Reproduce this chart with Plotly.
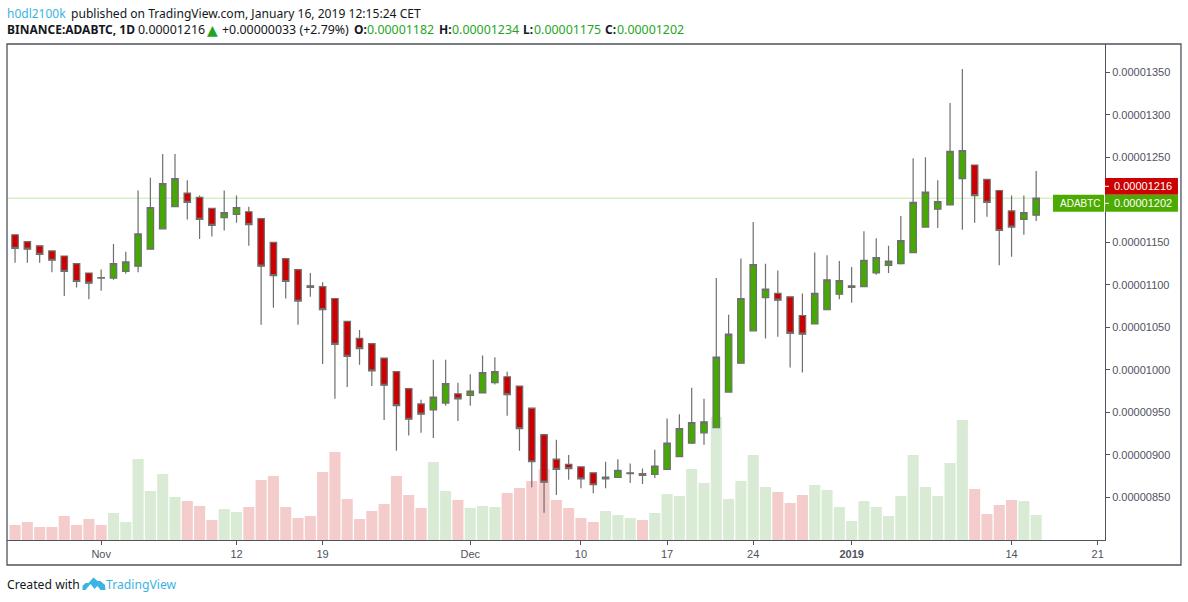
import pandas as pd
import numpy as np
import plotly.graph_objects as go

SYMBOL = "ADABTC"
first_day = "2018-10-25"
# prices in units of 1e-8 BTC
opens = [1159,1151,1146,1140,1134,1125,1114,1108.5,1108,1116,1122,1142,1166,1192,1208,1203,1190,1179,1183,1186,
         1178,1150,1131,1118,1099,1098,1084,1057,1037,1031,1014,998,978,960,953,961,972,970,973,985,
         992,981,955,924,895,889,886,879,872,873.5,878,878,877,883,898,914,926,932,974,1008,
         1046,1085,1090,1086,1064,1054,1071,1089,1097,1098,1114,1123,1125,1138,1168,1189,1194,1225,1241,1224,
         1211,1187,1177,1182]
highs = [1159,1151,1146,1140,1134,1125,1114,1118,1148,1139,1211,1226,1254,1254,1223,1205,1190,1211,1205,1192,
         1178,1150,1131,1118,1114,1103,1084,1057,1047,1031,1014,998,978,965,1012,1012,985,995,1017,1015,
         998,981,955,924,918,900,886,879,892,895,890,884,906,943,948,979,966,1108,1065,1131,
         1174,1125,1117,1086,1090,1138,1135,1128,1121,1163,1155,1146,1181,1249,1250,1223,1314,1354,1241,1224,
         1211,1205,1205,1234]
lows = [1126,1126,1126,1115,1087,1097,1083,1093,1106,1113,1115,1142,1166,1192,1177,1154,1157,1164,1173,1146,
        1053,1073,1084,1053,1086,1007,966,980,1006,981,941,905,923,926,920,958,940,958,973,983,
        946,905,862,832,853,871,861,855,861,873,867,866,873,883,898,913,912,932,974,1008,
        1046,1037,1039,1003,997,1054,1071,1083,1079,1098,1112,1114,1124,1138,1168,1167,1194,1165,1173,1180,
        1123,1133,1159,1175]
closes = [1143,1142,1136,1129,1116,1104,1102,1108,1125,1127,1160,1191,1219,1225,1197,1177,1170,1185,1191,1171,
          1122,1111,1104,1081,1097,1071,1030,1016,1025,999,982,958,942,948,968,984,966,975,997,998,
          971,931,892,868,883,884,872,865,874,882,879,876,887,914,931,938,939,1015,1042,1084,
          1124,1095,1082,1043,1042,1090,1106,1105,1099,1129,1132,1128,1152,1197,1209,1198,1257,1258,1205,1197,
          1164,1168,1185,1202]
volumes = [45,54,39,39,72,45,63,45,81,54,243,147,198,129,117,102,60,93,84,99,
           180,192,99,66,72,204,264,123,63,87,108,192,135,96,234,147,120,96,102,99,
           141,156,177,213,120,96,66,54,87,75,66,60,81,138,132,213,171,369,123,177,
           255,159,144,111,135,165,150,99,57,117,99,72,132,255,159,132,231,360,153,78,
           105,120,117,75]
y_ticks = [850,900,950,1000,1050,1100,1150,1250,1300,1350]
x_tick_dates = ["2018-11-01","2018-11-12","2018-11-19","2018-12-01","2018-12-10","2018-12-17","2018-12-24","2019-01-01","2019-01-14","2019-01-21"]
x_tick_text = ["Nov","12","19","Dec","10","17","24","<b>2019</b>","14","21"]
last_close = 1202
last_price = 1216

W, H = 1188, 602
L, R, T, B = 6.5, 1105, 44, 540
GREEN, RED, WICK = "#45a803", "#cc0000", "#6f6f6f"
AXIS = "#50535e"
BLUE = "#3bb3e4"
VAL = "#1fa51f"
DARK = "#131722"

def px(x): return (x - L) / (R - L)
def py(y): return (B - y) / (B - T)

days = pd.date_range(first_day, periods=len(opens), freq="D")
scale = 1e-8
o, h, l, c = [np.array(a, float) * scale for a in (opens, highs, lows, closes)]
vol_colors = ["#d9ebd5" if b > a else "#f5cccc" for a, b in zip(opens, closes)]

fig = go.Figure()
fig.add_trace(go.Bar(x=days, y=volumes, marker=dict(color=vol_colors, line_width=0), yaxis="y", hoverinfo="skip"))
fig.add_trace(go.Candlestick(
    x=days, open=o, high=h, low=l, close=c, yaxis="y2", whiskerwidth=0,
    increasing=dict(line=dict(color=WICK, width=1.2), fillcolor=GREEN),
    decreasing=dict(line=dict(color=WICK, width=1.2), fillcolor=RED),
))

shapes = [
    dict(type="rect", xref="paper", yref="paper", x0=px(6.5), x1=px(1181), y0=py(565), y1=py(44),
         line=dict(color=AXIS, width=1.3), fillcolor="rgba(0,0,0,0)"),
    dict(type="line", xref="paper", yref="y2", x0=0, x1=px(1053), y0=last_close*scale, y1=last_close*scale,
         line=dict(color="#c2e8a8", width=1), layer="below"),
    dict(type="rect", xref="paper", yref="paper", x0=px(1105), x1=px(1178), y0=py(194.7), y1=py(178),
         fillcolor=RED, line_width=0),
    dict(type="rect", xref="paper", yref="paper", x0=px(1105), x1=px(1178), y0=py(211.7), y1=py(194.7),
         fillcolor="#4caa00", line_width=0),
    dict(type="rect", xref="paper", yref="paper", x0=px(1053), x1=px(1104), y0=py(211.7), y1=py(194.7),
         fillcolor="#4caa00", line_width=0),
    dict(type="line", xref="paper", yref="paper", x0=px(1105), x1=px(1109), y0=py(186.3), y1=py(186.3),
         line=dict(color="white", width=1)),
    dict(type="line", xref="paper", yref="paper", x0=px(1105), x1=px(1109), y0=py(203.3), y1=py(203.3),
         line=dict(color="white", width=1)),
]
# logo
def P(pts):
    return "M" + " L".join(f"{px(a):.5f},{py(b):.5f}" for a, b in pts) + " Z"
logo = [(82,590),(82,586),(85,583),(88,583),(93,577.5),(97,581),(100,581),(104.5,585),(105,590),(100,590),(97,586),(94,589),(90,584),(85,590)]
shapes.append(dict(type="path", xref="paper", yref="paper", path=P(logo), fillcolor=BLUE, line_width=0))

def text(x, y, s, color=DARK, size=12.5, bold=False, family="Noto Sans"):
    fig.add_annotation(xref="paper", yref="paper", x=px(x), y=py(y), xanchor="left", yanchor="middle",
                       text=f"<b>{s}</b>" if bold else s, showarrow=False, align="left",
                       font=dict(color=color, size=size, family=family), xshift=-2)

text(6, 13, "h0dl2100k", BLUE, 12)
text(70.5, 13, "published on TradingView.com, January 16, 2019 12:15:24 CET", DARK, 12.1)
text(6, 30, "BINANCE:ADABTC, 1D", DARK, 12, True)
text(138, 30, "0.00001216", DARK, 12.4)
text(207, 30, "▲", VAL, 14, family="DejaVu Sans")
text(222, 30, "+0.00000033 (+2.79%)", DARK, 12.4)
for lx, lab, vx, val in [(353.5,"O:",367,"0.00001182"),(439,"H:",452,"0.00001234"),(523,"L:",534,"0.00001175"),(605,"C:",617,"0.00001202")]:
    text(lx, 30, lab, DARK, 12, True)
    text(vx, 30, val, VAL, 12.4)
text(6, 584, "Created with", DARK, 12.2)
text(106, 584, "TradingView", BLUE, 12.2)
for x0, y0, s, sz in [(1060, 203.3, SYMBOL, 10), (1114, 186.3, f"{last_price*scale:.8f}", 11), (1114, 203.3, f"{last_close*scale:.8f}", 11)]:
    text(x0, y0, s, "white", sz, family="Liberation Sans")

fig.update_layout(
    width=W, height=H, autosize=False, margin=dict(l=L, r=W-R, t=T, b=H-B, pad=0),
    paper_bgcolor="white", plot_bgcolor="white", showlegend=False, bargap=0.1, boxgap=0.25,
    font=dict(family="Liberation Sans", size=11, color=AXIS),
    shapes=shapes,
    xaxis=dict(type="date", range=["2018-10-24 08:17", "2019-01-21 14:17"], rangeslider=dict(visible=False),
               tickvals=x_tick_dates, ticktext=x_tick_text, ticks="outside", ticklen=4, tickcolor=AXIS,
               showline=True, linecolor=AXIS, linewidth=1, showgrid=False, zeroline=False,
               tickfont=dict(size=11, color=AXIS)),
    yaxis=dict(range=[0, 1488], visible=False, fixedrange=True),
    yaxis2=dict(overlaying="y", side="right", anchor="x", range=[800e-8, 1383.3e-8],
                tickvals=[v*scale for v in y_ticks], tickformat=".8f", ticks="outside", ticklen=4, tickcolor=AXIS,
                showline=True, linecolor=AXIS, linewidth=1, showgrid=False, zeroline=False,
                tickfont=dict(size=11, color=AXIS)),
)
fig.write_html("out.html", config=dict(displayModeBar=False), post_script="document.body.style.margin='0';")
